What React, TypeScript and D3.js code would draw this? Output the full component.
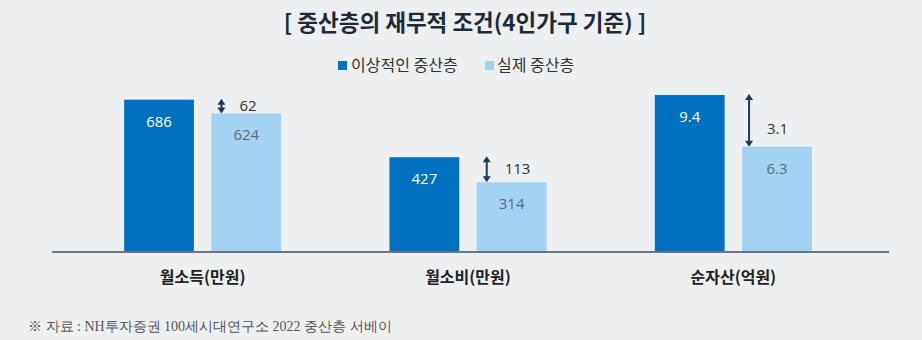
import React from "react";
import * as d3 from "d3";

const categories = ["월소득(만원)", "월소비(만원)", "순자산(억원)"];
const seriesNames = ["이상적인 중산층", "실제 중산층"];
const idealValues = [686, 427, 9.4];
const actualValues = [624, 314, 6.3];
const gapLabels = ["62", "113", "3.1"];
const idealLabels = ["686", "427", "9.4"];
const actualLabels = ["624", "314", "6.3"];
const scaleKind = ["money", "money", "asset"];

const W = 922;
const H = 340;
const BASE = 252;
const DARK = "#0070c0";
const LIGHT = "#a3d2f3";
const BG = "#eeeff1";
const KR = "'Noto Sans CJK KR', 'Noto Sans', sans-serif";
const NUM = "'Open Sans', 'Noto Sans', sans-serif";

export default function App() {
  const x = d3.scaleBand<string>().domain(categories).range([70, 866]).padding(0);
  const inner = d3.scaleBand<string>().domain(["ideal", "actual"]).range([0, 157]).paddingInner(0.2);
  const yMoney = d3.scaleLinear().domain([0, 700]).range([BASE, BASE - 155.4]);
  const yAsset = d3.scaleLinear().domain([0, 10]).range([BASE, BASE - 167]);
  const bw = inner.bandwidth();

  return (
    <svg width={W} height={H} style={{ position: "absolute", left: 0, top: 0, background: BG }}>
      <rect x={0} y={0} width={W} height={H} fill={BG} />
      <text x={465} y={31} textAnchor="middle" fontFamily={KR} fontWeight={700} fontSize={22.5} fill="#1e2a38">
        [ 중산층의 재무적 조건(4인가구 기준) ]
      </text>
      {/* legend */}
      <g fontFamily={KR} fontSize={16} fill="#333">
        <rect x={338} y={61} width={9} height={9} fill={DARK} />
        <text x={351} y={71}>{seriesNames[0]}</text>
        <rect x={485} y={61} width={9} height={9} fill={LIGHT} />
        <text x={497} y={71}>{seriesNames[1]}</text>
      </g>
      {categories.map((c, i) => {
        const y = scaleKind[i] === "money" ? yMoney : yAsset;
        const cx = (x(c) as number) + x.bandwidth() / 2;
        const g0 = cx - 78.5;
        const xi = g0 + (inner("ideal") as number);
        const xa = g0 + (inner("actual") as number);
        const yi = y(idealValues[i]);
        const ya = y(actualValues[i]);
        const ax = xa + (i === 2 ? 7 : 10);
        const hw = 4;
        const hh = 6;
        const mid = (yi + ya) / 2;
        return (
          <g key={c}>
            <rect x={xi} y={yi} width={bw} height={BASE - yi} fill={DARK} />
            <rect x={xa} y={ya} width={bw} height={BASE - ya} fill={LIGHT} />
            <text x={xi + bw / 2} y={yi + 27} textAnchor="middle" fontFamily={NUM} fontSize={15} fill="#ffffff">
              {idealLabels[i]}
            </text>
            <text x={xa + bw / 2} y={ya + 27} textAnchor="middle" fontFamily={NUM} fontSize={15} fill="#5b6b7b">
              {actualLabels[i]}
            </text>
            <line x1={ax} x2={ax} y1={yi + 2} y2={ya - 2} stroke="#1f3a56" strokeWidth={2} />
            <path d={`M${ax},${yi - 1} L${ax - hw},${yi - 1 + hh} L${ax + hw},${yi - 1 + hh} Z`} fill="#1f3a56" />
            <path d={`M${ax},${ya} L${ax - hw},${ya - hh} L${ax + hw},${ya - hh} Z`} fill="#1f3a56" />
            <text x={ax + 18} y={mid + (i === 2 ? 13 : 4)} fontFamily={NUM} fontSize={15} fill="#333">
              {gapLabels[i]}
            </text>
            <text x={cx} y={283} textAnchor="middle" fontFamily={KR} fontWeight={700} fontSize={16} fill="#222">
              {c}
            </text>
          </g>
        );
      })}
      <line x1={52} x2={889} y1={BASE} y2={BASE} stroke="#6b7883" strokeWidth={2} />
      <text x={28} y={331} fontFamily="'Liberation Serif', 'DejaVu Serif', serif" fontSize={14} fill="#555">
        ※ 자료 : NH투자증권 100세시대연구소 2022 중산층 서베이
      </text>
    </svg>
  );
}
